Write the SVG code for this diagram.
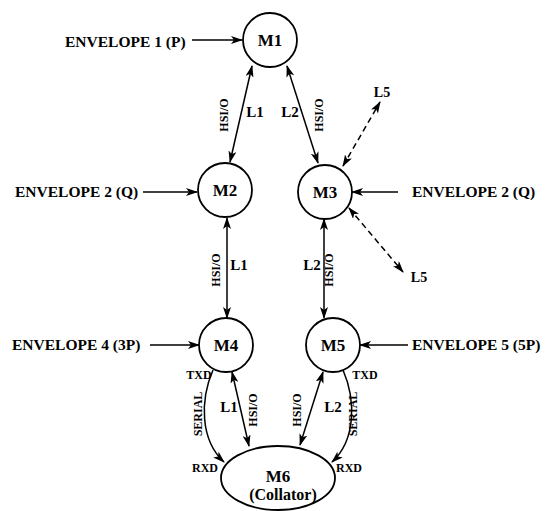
<svg xmlns="http://www.w3.org/2000/svg" width="547" height="511" viewBox="0 0 547 511">
<style>
text{font-family:"Liberation Serif","Times New Roman",serif;font-weight:bold;fill:#000}
.env{font-size:15.5px}
.m{font-size:17px;text-anchor:middle}
.l{font-size:15px;text-anchor:middle;dominant-baseline:central}
.h{font-size:12px;text-anchor:middle;dominant-baseline:central}
.s{font-size:12px;text-anchor:middle;dominant-baseline:central}
.node{fill:#fff;stroke:#000;stroke-width:1.8}
.c{fill:none;stroke:#000;stroke-width:1.5}
.d{stroke-dasharray:6 4}
.ab{marker-start:url(#as);marker-end:url(#ae)}
.ae{marker-end:url(#ae)}
</style>
<defs>
<marker id="ae" viewBox="0 0 12 8" refX="11" refY="4" markerWidth="12" markerHeight="8" markerUnits="userSpaceOnUse" orient="auto">
<path d="M0,0 L12,4 L0,8 L3,4 z" fill="#000"/>
</marker>
<marker id="as" viewBox="0 0 12 8" refX="1" refY="4" markerWidth="12" markerHeight="8" markerUnits="userSpaceOnUse" orient="auto">
<path d="M12,0 L0,4 L12,8 L9,4 z" fill="#000"/>
</marker>
</defs>
<rect width="547" height="511" fill="#fff"/>
<g id="connectors">
<line class="c ae" x1="192" y1="40" x2="242" y2="40"/>
<line class="c ae" x1="143" y1="192" x2="197" y2="192"/>
<line class="c ae" x1="398" y1="192" x2="352" y2="192"/>
<line class="c ae" x1="150" y1="345" x2="199" y2="345"/>
<line class="c ae" x1="408" y1="345" x2="360" y2="345"/>
<line class="c ab" x1="252" y1="66" x2="230" y2="162"/>
<line class="c ab" x1="287" y1="66" x2="318" y2="163"/>
<line class="c ab" x1="227" y1="218" x2="227" y2="318"/>
<line class="c ab" x1="324" y1="219" x2="324" y2="318"/>
<line class="c d ab" x1="343" y1="166" x2="380" y2="102"/>
<line class="c d ab" x1="349" y1="208" x2="403" y2="272"/>
<line class="c ab" x1="232" y1="372" x2="249" y2="446"/>
<line class="c ab" x1="323" y1="372" x2="300" y2="445"/>
<path class="c ae" d="M213,370 C200,400 200,440 224,462"/>
<path class="c ae" d="M343,370 C356,400 356,440 332,462"/>
</g>
<g id="M1"><circle class="node" cx="270" cy="40" r="27"/><text class="m" x="270" y="46">M1</text></g>
<g id="M2"><circle class="node" cx="225" cy="190" r="27"/><text class="m" x="225" y="196">M2</text></g>
<g id="M3"><circle class="node" cx="325" cy="192" r="27"/><text class="m" x="325" y="198">M3</text></g>
<g id="M4"><circle class="node" cx="226" cy="345" r="27"/><text class="m" x="226" y="351">M4</text></g>
<g id="M5"><circle class="node" cx="333" cy="345" r="27"/><text class="m" x="333" y="351">M5</text></g>
<g id="M6"><ellipse class="node" cx="278" cy="478" rx="57" ry="32"/><text class="m" x="278" y="482">M6</text><text class="m" x="283" y="500" style="font-size:16px">(Collator)</text></g>
<g id="labels">
<text class="env" x="65" y="47">ENVELOPE 1 (P)</text>
<text class="env" x="15" y="197">ENVELOPE 2 (Q)</text>
<text class="env" x="412" y="197">ENVELOPE 2 (Q)</text>
<text class="env" x="12" y="350">ENVELOPE 4 (3P)</text>
<text class="env" x="412" y="350">ENVELOPE 5 (5P)</text>
<text class="l" x="255" y="112">L1</text>
<text class="l" x="290" y="112">L2</text>
<text class="h" transform="translate(224,115) rotate(-90)">HSI/O</text>
<text class="h" transform="translate(319,115) rotate(-90)">HSI/O</text>
<text class="h" transform="translate(216,270) rotate(-90)">HSI/O</text>
<text class="l" x="239" y="265">L1</text>
<text class="l" x="312" y="265">L2</text>
<text class="h" transform="translate(329,270) rotate(-90)">HSI/O</text>
<text class="l" x="229" y="407">L1</text>
<text class="h" transform="translate(253,410) rotate(-90)">HSI/O</text>
<text class="h" transform="translate(297,410) rotate(-90)">HSI/O</text>
<text class="l" x="333" y="407">L2</text>
<text class="s" transform="translate(198,414) rotate(-90)">SERIAL</text>
<text class="s" transform="translate(353,414) rotate(-90)">SERIAL</text>
<text class="s" x="199" y="375">TXD</text>
<text class="s" x="365" y="375">TXD</text>
<text class="s" x="205" y="468">RXD</text>
<text class="s" x="349" y="468">RXD</text>
<text class="l" x="382" y="92" style="font-size:14px">L5</text>
<text class="l" x="419" y="277" style="font-size:14px">L5</text>
</g>
</svg>
